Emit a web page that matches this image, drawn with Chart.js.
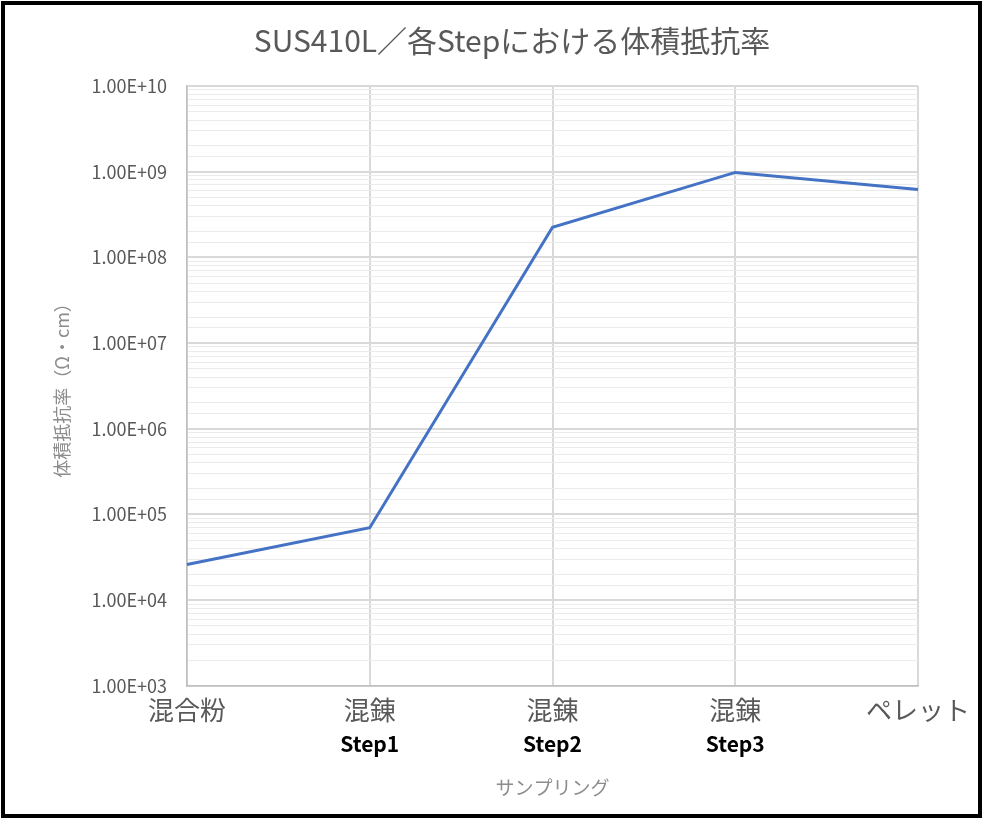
<!DOCTYPE html>
<html lang="ja">
<head>
<meta charset="utf-8">
<title>SUS410L 体積抵抗率</title>
<script src="https://cdn.jsdelivr.net/npm/chart.js@4/dist/chart.umd.min.js"></script>
<style>
  html, body { margin: 0; padding: 0; background: #fff; }
  #wrap { position: absolute; left: 0; top: 0; width: 986px; height: 822px; }
</style>
</head>
<body>
<div id="wrap"><canvas id="chart" width="986" height="822"></canvas></div>
<script>
// カテゴリ（1行目・2行目）
const sampleLabels = ["混合粉", "混錬", "混錬", "混錬", "ペレット"];
const stepLabels = ["", "Step1", "Step2", "Step3", ""];
// 体積抵抗率 (Ω・cm)
const resistivity = [2.6e4, 7.0e4, 2.25e8, 9.8e8, 6.2e8];
// Y軸の目盛ラベル (1e3 〜 1e10)
const yTickLabels = ["1.00E+03", "1.00E+04", "1.00E+05", "1.00E+06", "1.00E+07", "1.00E+08", "1.00E+09", "1.00E+10"];

Chart.defaults.font.family = "'Noto Sans CJK JP', 'Noto Sans', sans-serif";

// 10のべき乗かどうか
const isDecade = (v) => {
  const e = Math.log10(v);
  return Math.abs(e - Math.round(e)) < 1e-9;
};

// 外枠とタイトル位置の調整
const framePlugin = {
  id: "frame",
  afterLayout(chart) {
    if (chart.titleBlock) {
      chart.titleBlock.left += 50;
      chart.titleBlock.right += 50;
    }
  },
  beforeDraw(chart) {
    const c = chart.ctx;
    c.save();
    c.fillStyle = "#ffffff";
    c.fillRect(0, 0, chart.width, chart.height);
    c.restore();
  },
  afterDraw(chart) {
    const c = chart.ctx;
    c.save();
    c.strokeStyle = "#000000";
    c.lineWidth = 4;
    c.strokeRect(3, 3, 977, 813);
    c.restore();
  },
};

const ctx = document.getElementById("chart").getContext("2d");
new Chart(ctx, {
  type: "line",
  data: {
    labels: sampleLabels,
    datasets: [
      {
        label: "体積抵抗率",
        data: resistivity,
        borderColor: "#4472C4",
        borderWidth: 3,
        pointRadius: 0,
        tension: 0,
        fill: false,
      },
    ],
  },
  options: {
    responsive: false,
    animation: false,
    layout: { padding: { top: 8, left: 6, right: 68, bottom: 10 } },
    plugins: {
      legend: { display: false },
      tooltip: { enabled: false },
      title: {
        display: true,
        text: "SUS410L／各Stepにおける体積抵抗率",
        color: "#595959",
        font: { size: 30, weight: "normal" },
        padding: { top: 15, bottom: 27 },
      },
    },
    scales: {
      x: {
        type: "category",
        position: "bottom",
        weight: 0,
        offset: false,
        grid: { color: "#d9d9d9", lineWidth: 2, drawTicks: false },
        border: { color: "#bfbfbf", width: 1.5 },
        ticks: {
          color: "#595959",
          font: { size: 26 },
          padding: 9,
          autoSkip: false,
          maxRotation: 0,
        },
      },
      x2: {
        type: "category",
        labels: stepLabels,
        position: "bottom",
        weight: 1,
        offset: false,
        grid: { display: false, drawTicks: false },
        border: { display: false },
        ticks: {
          color: "#000000",
          font: { size: 21, weight: "bold" },
          padding: -4,
          autoSkip: false,
          maxRotation: 0,
        },
        title: {
          display: true,
          text: "サンプリング",
          color: "#8c8c8c",
          font: { size: 19 },
          padding: { top: 24, bottom: 13 },
        },
      },
      y: {
        type: "logarithmic",
        min: 1e3,
        max: 1e10,
        afterFit: (scale) => {
          scale.width = 181;
        },
        grid: {
          drawTicks: false,
          color: (c) => (c.tick && isDecade(c.tick.value) ? "#d9d9d9" : "#ebebeb"),
          lineWidth: (c) => (c.tick && isDecade(c.tick.value) ? 2 : 1),
        },
        border: { color: "#bfbfbf", width: 1.5 },
        ticks: {
          color: "#595959",
          font: { size: 18 },
          padding: 20,
          autoSkip: false,
          callback: (v) => {
            if (!isDecade(v)) return "";
            return yTickLabels[Math.round(Math.log10(v)) - 3] || "";
          },
        },
        title: {
          display: true,
          text: "体積抵抗率（Ω・cm）",
          color: "#8c8c8c",
          font: { size: 18 },
          padding: { top: 45, bottom: 0 },
        },
      },
    },
  },
  plugins: [framePlugin],
});
</script>
</body>
</html>
